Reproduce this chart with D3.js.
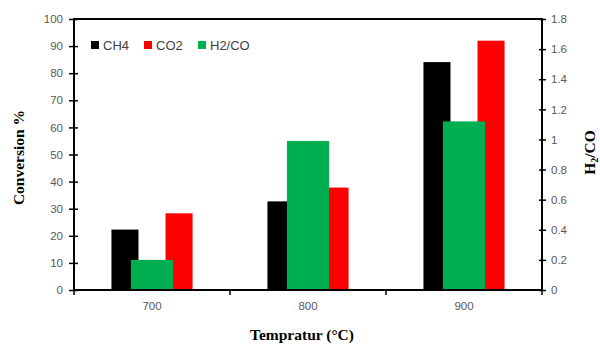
<!DOCTYPE html>
<html>
<head>
<meta charset="utf-8">
<script src="https://cdn.jsdelivr.net/npm/d3@7"></script>
<style>
  body { margin: 0; background: #fff; }
  .tick text { fill: #595959; font-family: "Liberation Sans", Arial, sans-serif; font-size: 11.5px; }
  .axisTitle { font-family: "Liberation Serif", "DejaVu Serif", serif; font-weight: bold; font-size: 15.5px; fill: #000; }
  .legendText { font-family: "Liberation Sans", Arial, sans-serif; font-size: 13px; fill: #404040; }
</style>
</head>
<body>
<div class="chart"></div>
<script>
var svgWidth = 600;
var svgHeight = 347;

var margin = { top: 19, right: 58, bottom: 57, left: 74 };
var width = svgWidth - margin.left - margin.right;
var height = svgHeight - margin.top - margin.bottom;

// data
var temps = ["700", "800", "900"];
var ch4 = [22.3, 32.7, 84.1];
var co2 = [28.3, 37.8, 92.0];
var h2co = [0.2, 0.99, 1.12];
var leftTicks = [0, 10, 20, 30, 40, 50, 60, 70, 80, 90, 100];
var rightTicks = [0, 0.2, 0.4, 0.6, 0.8, 1, 1.2, 1.4, 1.6, 1.8];
var legendItems = [
  { name: "CH4", color: "#000000" },
  { name: "CO2", color: "#ff0000" },
  { name: "H2/CO", color: "#00b050" }
];

var svg = d3.select(".chart")
  .append("svg")
  .attr("width", svgWidth)
  .attr("height", svgHeight);

var chartGroup = svg.append("g")
  .attr("transform", `translate(${margin.left}, ${margin.top})`);

// scales
var xScale = d3.scaleBand()
  .domain(temps)
  .range([0, width])
  .paddingInner(0.48)
  .paddingOuter(0.24);

var xInner = d3.scaleBand()
  .domain(["CH4", "mid", "CO2"])
  .range([0, xScale.bandwidth()]);

var yLeft = d3.scaleLinear().domain([0, 100]).range([height, 0]);
var yRight = d3.scaleLinear().domain([0, 1.8]).range([height, 0]);

var step = xScale.step();
var greenWidth = xScale.bandwidth() * 0.52;

// primary bars
chartGroup.selectAll(".ch4")
  .data(ch4)
  .enter()
  .append("rect")
  .attr("x", (d, i) => xScale(temps[i]) + xInner("CH4"))
  .attr("y", d => yLeft(d))
  .attr("width", xInner.bandwidth())
  .attr("height", d => height - yLeft(d))
  .attr("fill", "#000");

chartGroup.selectAll(".co2")
  .data(co2)
  .enter()
  .append("rect")
  .attr("x", (d, i) => xScale(temps[i]) + xInner("CO2"))
  .attr("y", d => yLeft(d))
  .attr("width", xInner.bandwidth())
  .attr("height", d => height - yLeft(d))
  .attr("fill", "#ff0000");

// secondary bars drawn on top
chartGroup.selectAll(".h2co")
  .data(h2co)
  .enter()
  .append("rect")
  .attr("x", (d, i) => xScale(temps[i]) + xScale.bandwidth() / 2 - greenWidth / 2)
  .attr("y", d => yRight(d))
  .attr("width", greenWidth)
  .attr("height", d => height - yRight(d))
  .attr("fill", "#00b050");

// plot frame
chartGroup.append("rect")
  .attr("x", 0)
  .attr("y", 0)
  .attr("width", width)
  .attr("height", height)
  .attr("fill", "none")
  .attr("stroke", "#000")
  .attr("stroke-width", 2);

// axes
var leftAxis = d3.axisLeft(yLeft).tickValues(leftTicks).tickSizeInner(4).tickSizeOuter(0);
var rightAxis = d3.axisRight(yRight).tickValues(rightTicks).tickSizeInner(4).tickSizeOuter(0)
  .tickFormat(d3.format("~g"));

var gl = chartGroup.append("g").call(leftAxis);
gl.select(".domain").remove();
gl.selectAll(".tick line").attr("x1", 4).attr("x2", -5).attr("stroke", "#000").attr("stroke-width", 1.5);
gl.selectAll(".tick text").attr("x", -11);

var gr = chartGroup.append("g").attr("transform", `translate(${width}, 0)`).call(rightAxis);
gr.select(".domain").remove();
gr.selectAll(".tick line").attr("x1", -3).attr("x2", 4).attr("stroke", "#000").attr("stroke-width", 1.5);
gr.selectAll(".tick text").attr("x", 9);

// x axis: category labels and boundary ticks
var gx = chartGroup.append("g").attr("transform", `translate(0, ${height})`);
gx.selectAll(".xlab")
  .data(temps)
  .enter()
  .append("text")
  .attr("x", d => xScale(d) + xScale.bandwidth() / 2)
  .attr("y", 20)
  .attr("text-anchor", "middle")
  .style("fill", "#595959")
  .style("font-family", "'Liberation Sans', Arial, sans-serif")
  .style("font-size", "11.5px")
  .text(d => d);

gx.selectAll(".xtick")
  .data(d3.range(temps.length + 1))
  .enter()
  .append("line")
  .attr("x1", i => i * step)
  .attr("x2", i => i * step)
  .attr("y1", 0)
  .attr("y2", 5)
  .attr("stroke", "#000")
  .attr("stroke-width", 1.5);

// axis titles
svg.append("text")
  .attr("class", "axisTitle")
  .attr("transform", `translate(24, ${margin.top + height / 2 + 3}) rotate(-90)`)
  .attr("text-anchor", "middle")
  .text("Conversion %");

var rt = svg.append("text")
  .attr("class", "axisTitle")
  .attr("transform", `translate(595, ${margin.top + height / 2 - 2}) rotate(-90)`)
  .attr("text-anchor", "middle");
rt.append("tspan").text("H");
rt.append("tspan").attr("font-size", "10px").attr("dy", 3).text("2");
rt.append("tspan").attr("dy", -3).text("/CO");

svg.append("text")
  .attr("class", "axisTitle")
  .attr("x", 302)
  .attr("y", 340)
  .attr("text-anchor", "middle")
  .text("Tempratur (\u00B0C)");

// legend
var legendX = [91, 144, 198];
var legend = svg.selectAll(".legend")
  .data(legendItems)
  .enter()
  .append("g")
  .attr("transform", (d, i) => `translate(${legendX[i]}, 41)`);

legend.append("rect")
  .attr("width", 8)
  .attr("height", 8)
  .attr("fill", d => d.color);

legend.append("text")
  .attr("class", "legendText")
  .attr("x", 12)
  .attr("y", 9)
  .text(d => d.name);
</script>
</body>
</html>
